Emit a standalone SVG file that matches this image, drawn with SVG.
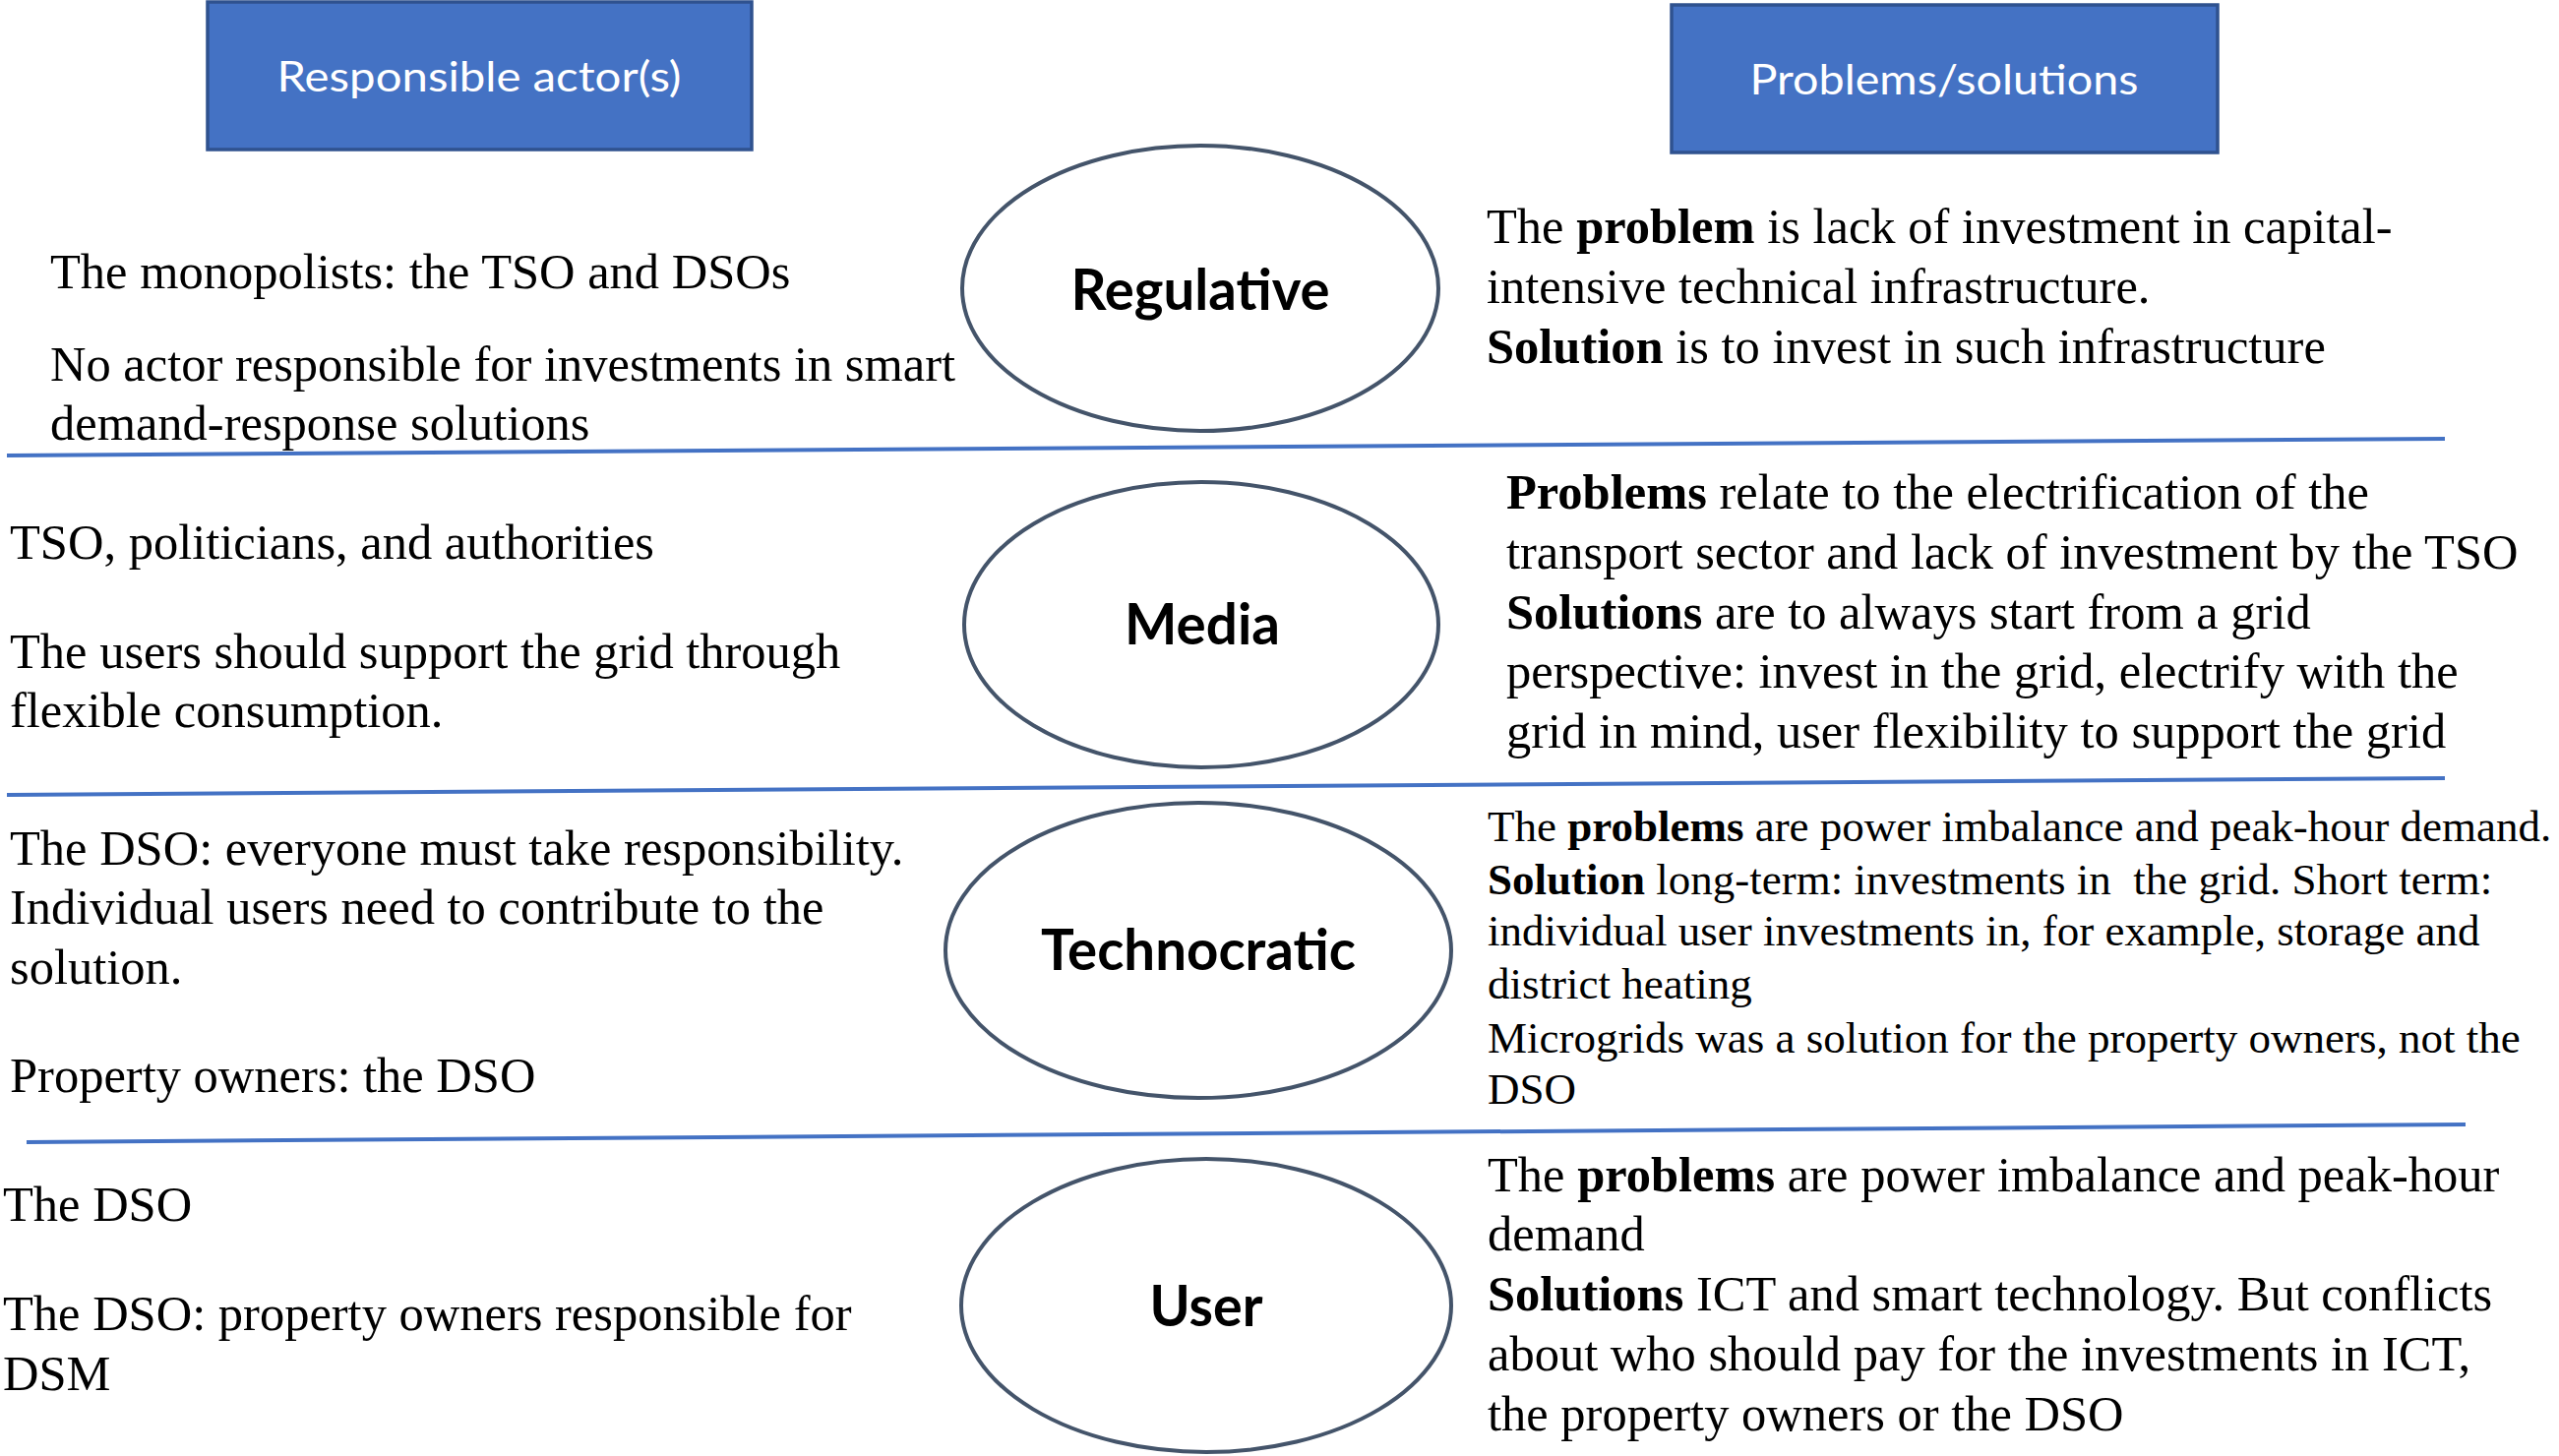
<svg xmlns="http://www.w3.org/2000/svg" width="2601" height="1480" viewBox="0 0 2601 1480">
<style>
.hdr{fill:#4472C4;stroke:#2F528F;stroke-width:3.5}
.hdrt{font-family:Lato,"Liberation Sans",sans-serif;font-size:43px;fill:#ffffff;text-anchor:middle}
.ell{fill:#ffffff;stroke:#44546A;stroke-width:4}
.lbl{font-family:Lato,"Liberation Sans",sans-serif;font-weight:bold;font-size:57px;fill:#000;text-anchor:middle}
.div{stroke:#4472C4;stroke-width:4;fill:none}
.t{font-family:"Liberation Serif","Times New Roman",serif;font-size:50.5px;fill:#000}
.s{font-size:45px}
.b{font-weight:bold}
</style>
<rect width="2601" height="1480" fill="#ffffff"/>
<g id="dividers">
<line class="div" x1="7" y1="463" x2="2485" y2="446"/>
<line class="div" x1="7" y1="808" x2="2485" y2="791"/>
<line class="div" x1="27" y1="1161" x2="2506" y2="1143"/>
</g>
<g id="header-actors">
<rect class="hdr" x="211" y="2" width="553" height="150"/>
<text class="hdrt" x="487" y="93" textLength="411" lengthAdjust="spacingAndGlyphs">Responsible actor(s)</text>
</g>
<g id="header-problems">
<rect class="hdr" x="1699" y="5" width="555" height="150"/>
<text class="hdrt" x="1976" y="96" textLength="395" lengthAdjust="spacingAndGlyphs">Problems/solutions</text>
</g>
<g id="node-regulative">
<ellipse class="ell" cx="1220" cy="293" rx="242" ry="145"/>
<text class="lbl" x="1220" y="315" textLength="263" lengthAdjust="spacingAndGlyphs">Regulative</text>
</g>
<g id="node-media">
<ellipse class="ell" cx="1221" cy="635" rx="241" ry="145"/>
<text class="lbl" x="1222" y="655" textLength="158" lengthAdjust="spacingAndGlyphs">Media</text>
</g>
<g id="node-technocratic">
<ellipse class="ell" cx="1218" cy="966" rx="257" ry="150"/>
<text class="lbl" x="1218" y="986" textLength="320" lengthAdjust="spacingAndGlyphs">Technocratic</text>
</g>
<g id="node-user">
<ellipse class="ell" cx="1226" cy="1327" rx="249" ry="149"/>
<text class="lbl" x="1226" y="1348" textLength="115" lengthAdjust="spacingAndGlyphs">User</text>
</g>
<g id="actors-regulative">
<text class="t" x="51" y="293">The monopolists: the TSO and DSOs</text>
<text class="t" x="51" y="387">No actor responsible for investments in smart</text>
<text class="t" x="51" y="447">demand-response solutions</text>
</g>
<g id="problems-regulative">
<text class="t" x="1511" y="247">The <tspan class="b">problem</tspan> is lack of investment in capital-</text>
<text class="t" x="1511" y="308">intensive technical infrastructure.</text>
<text class="t" x="1511" y="369"><tspan class="b">Solution</tspan> is to invest in such infrastructure</text>
</g>
<g id="actors-media">
<text class="t" x="10" y="568">TSO, politicians, and authorities</text>
<text class="t" x="10" y="679">The users should support the grid through</text>
<text class="t" x="10" y="739">flexible consumption.</text>
</g>
<g id="problems-media">
<text class="t" x="1531" y="517"><tspan class="b">Problems</tspan> relate to the electrification of the</text>
<text class="t" x="1531" y="578">transport sector and lack of investment by the TSO</text>
<text class="t" x="1531" y="639"><tspan class="b">Solutions</tspan> are to always start from a grid</text>
<text class="t" x="1531" y="699">perspective: invest in the grid, electrify with the</text>
<text class="t" x="1531" y="760">grid in mind, user flexibility to support the grid</text>
</g>
<g id="actors-technocratic">
<text class="t" x="10" y="879">The DSO: everyone must take responsibility.</text>
<text class="t" x="10" y="939">Individual users need to contribute to the</text>
<text class="t" x="10" y="1000">solution.</text>
<text class="t" x="10" y="1110">Property owners: the DSO</text>
</g>
<g id="problems-technocratic">
<text class="t s" x="1512" y="855">The <tspan class="b">problems</tspan> are power imbalance and peak-hour demand.</text>
<text class="t s" x="1512" y="909" style="white-space:pre"><tspan class="b">Solution</tspan> long-term: investments in  the grid. Short term:</text>
<text class="t s" x="1512" y="961">individual user investments in, for example, storage and</text>
<text class="t s" x="1512" y="1015">district heating</text>
<text class="t s" x="1512" y="1070">Microgrids was a solution for the property owners, not the</text>
<text class="t s" x="1512" y="1122">DSO</text>
</g>
<g id="actors-user">
<text class="t" x="3" y="1241">The DSO</text>
<text class="t" x="3" y="1352">The DSO: property owners responsible for</text>
<text class="t" x="3" y="1413">DSM</text>
</g>
<g id="problems-user">
<text class="t" x="1512" y="1211">The <tspan class="b">problems</tspan> are power imbalance and peak-hour</text>
<text class="t" x="1512" y="1271">demand</text>
<text class="t" x="1512" y="1332"><tspan class="b">Solutions</tspan> ICT and smart technology. But conflicts</text>
<text class="t" x="1512" y="1393">about who should pay for the investments in ICT,</text>
<text class="t" x="1512" y="1454">the property owners or the DSO</text>
</g>
</svg>
